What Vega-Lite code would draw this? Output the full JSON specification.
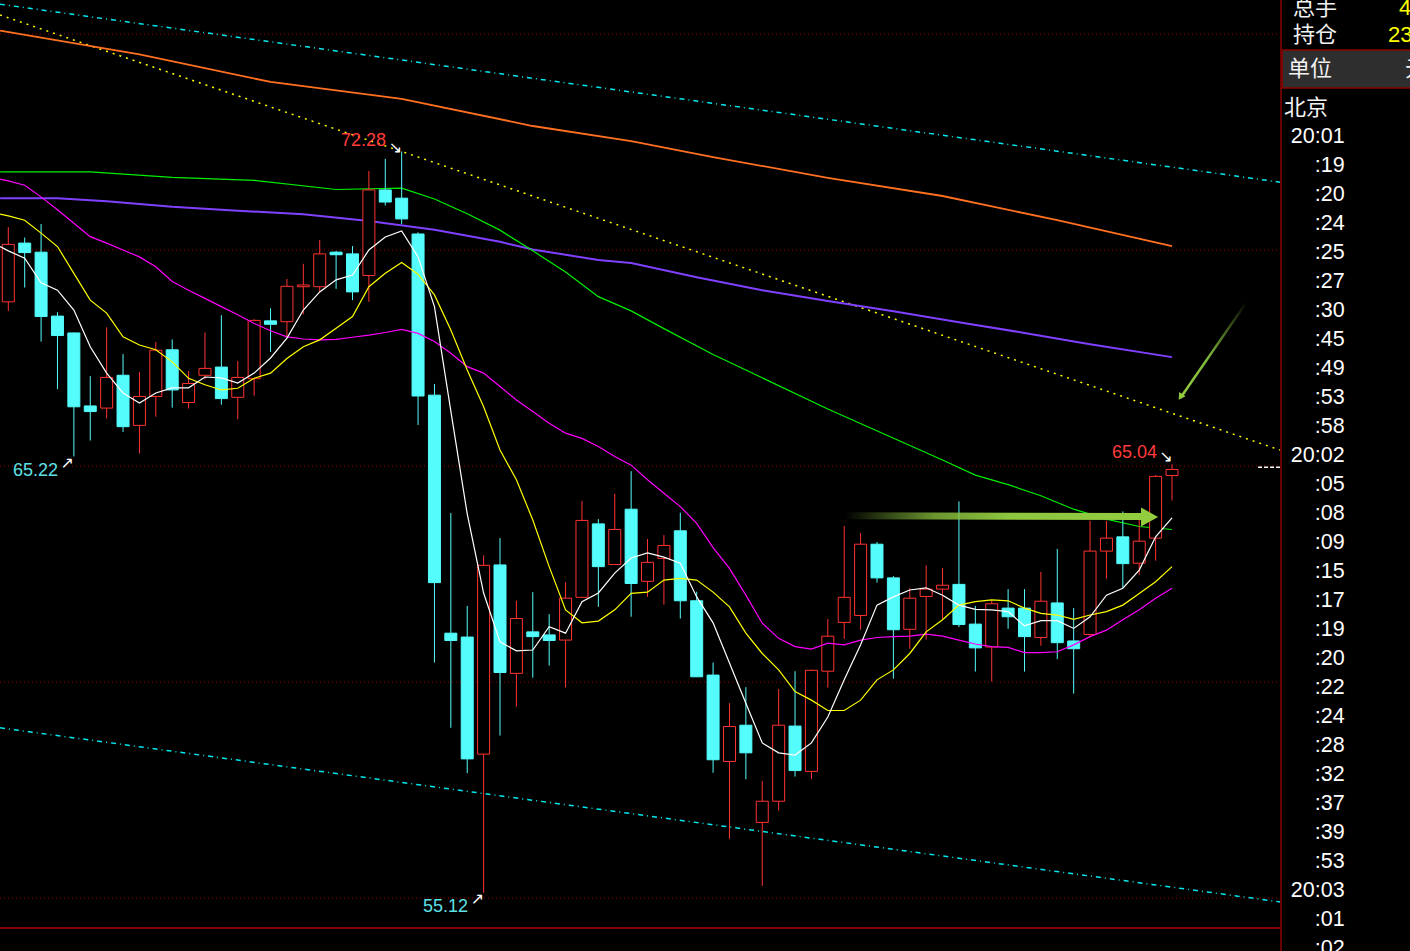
{
"$schema":"https://vega.github.io/schema/vega-lite/v6.json",
"width":1410,"height":951,"padding":0,"autosize":{"type":"none"},
"background":"#000000",
"config":{"view":{"stroke":null},"scale":{"continuousPadding":0}},
"datasets":{
"k":[
{"i":0,"o":68.80,"h":70.53,"l":68.59,"c":70.13},
{"i":1,"o":70.16,"h":70.29,"l":69.13,"c":69.94},
{"i":2,"o":69.95,"h":70.60,"l":67.88,"c":68.46},
{"i":3,"o":68.47,"h":68.56,"l":66.78,"c":68.02},
{"i":4,"o":68.08,"h":68.09,"l":65.22,"c":66.37},
{"i":5,"o":66.39,"h":67.08,"l":65.59,"c":66.26},
{"i":6,"o":66.34,"h":68.21,"l":66.10,"c":67.05},
{"i":7,"o":67.10,"h":67.59,"l":65.79,"c":65.91},
{"i":8,"o":65.94,"h":67.18,"l":65.29,"c":66.61},
{"i":9,"o":66.61,"h":67.87,"l":66.14,"c":67.68},
{"i":10,"o":67.69,"h":67.93,"l":66.35,"c":66.76},
{"i":11,"o":66.47,"h":67.20,"l":66.33,"c":66.91},
{"i":12,"o":67.10,"h":68.09,"l":67.01,"c":67.26},
{"i":13,"o":67.29,"h":68.49,"l":66.42,"c":66.56},
{"i":14,"o":66.59,"h":67.43,"l":66.08,"c":67.05},
{"i":15,"o":67.02,"h":68.40,"l":66.63,"c":68.37},
{"i":16,"o":68.36,"h":68.65,"l":67.64,"c":68.28},
{"i":17,"o":68.34,"h":69.33,"l":67.96,"c":69.16},
{"i":18,"o":69.15,"h":69.68,"l":68.51,"c":69.19},
{"i":19,"o":69.15,"h":70.23,"l":69.03,"c":69.91},
{"i":20,"o":69.95,"h":69.98,"l":69.10,"c":69.89},
{"i":21,"o":69.91,"h":70.09,"l":68.84,"c":69.03},
{"i":22,"o":69.41,"h":71.83,"l":68.80,"c":71.39},
{"i":23,"o":71.39,"h":72.11,"l":71.03,"c":71.11},
{"i":24,"o":71.20,"h":72.28,"l":70.60,"c":70.72},
{"i":25,"o":70.37,"h":70.41,"l":65.95,"c":66.62},
{"i":26,"o":66.64,"h":66.90,"l":60.45,"c":62.30},
{"i":27,"o":61.13,"h":63.91,"l":58.94,"c":60.96},
{"i":28,"o":61.04,"h":61.76,"l":57.89,"c":58.22},
{"i":29,"o":58.33,"h":62.93,"l":55.12,"c":62.70},
{"i":30,"o":62.71,"h":63.33,"l":58.76,"c":60.22},
{"i":31,"o":60.20,"h":61.88,"l":59.43,"c":61.47},
{"i":32,"o":61.16,"h":62.08,"l":60.10,"c":61.05},
{"i":33,"o":61.09,"h":61.57,"l":60.38,"c":60.96},
{"i":34,"o":60.97,"h":62.31,"l":59.87,"c":61.94},
{"i":35,"o":61.96,"h":64.19,"l":61.96,"c":63.74},
{"i":36,"o":63.66,"h":63.77,"l":61.74,"c":62.67},
{"i":37,"o":62.72,"h":64.36,"l":62.72,"c":63.53},
{"i":38,"o":64.00,"h":64.88,"l":61.51,"c":62.28},
{"i":39,"o":62.33,"h":63.31,"l":61.97,"c":62.77},
{"i":40,"o":62.86,"h":63.40,"l":61.79,"c":63.16},
{"i":41,"o":63.50,"h":63.92,"l":61.47,"c":61.88},
{"i":42,"o":61.88,"h":62.09,"l":60.12,"c":60.12},
{"i":43,"o":60.16,"h":60.45,"l":57.90,"c":58.20},
{"i":44,"o":58.16,"h":59.51,"l":56.37,"c":58.97},
{"i":45,"o":59.00,"h":59.88,"l":57.75,"c":58.36},
{"i":46,"o":56.75,"h":57.71,"l":55.28,"c":57.24},
{"i":47,"o":57.24,"h":59.84,"l":57.02,"c":59.00},
{"i":48,"o":58.98,"h":60.25,"l":57.81,"c":57.95},
{"i":49,"o":57.93,"h":60.29,"l":57.75,"c":60.27},
{"i":50,"o":60.25,"h":61.46,"l":59.87,"c":61.06},
{"i":51,"o":61.38,"h":63.61,"l":61.00,"c":61.96},
{"i":52,"o":61.54,"h":63.45,"l":61.21,"c":63.19},
{"i":53,"o":63.19,"h":63.24,"l":62.30,"c":62.41},
{"i":54,"o":62.41,"h":62.45,"l":60.08,"c":61.21},
{"i":55,"o":61.22,"h":62.17,"l":60.77,"c":61.94},
{"i":56,"o":61.98,"h":62.70,"l":60.98,"c":62.15},
{"i":57,"o":62.15,"h":62.64,"l":61.46,"c":62.24},
{"i":58,"o":62.26,"h":64.18,"l":61.27,"c":61.33},
{"i":59,"o":61.34,"h":61.76,"l":60.24,"c":60.79},
{"i":60,"o":60.81,"h":61.88,"l":60.01,"c":61.81},
{"i":61,"o":61.71,"h":62.15,"l":61.23,"c":61.51},
{"i":62,"o":61.71,"h":62.15,"l":60.24,"c":61.05},
{"i":63,"o":61.03,"h":62.55,"l":60.84,"c":61.87},
{"i":64,"o":61.83,"h":63.08,"l":60.53,"c":60.91},
{"i":65,"o":60.95,"h":61.71,"l":59.73,"c":60.77},
{"i":66,"o":61.10,"h":63.73,"l":61.05,"c":63.03},
{"i":67,"o":63.03,"h":63.73,"l":62.39,"c":63.33},
{"i":68,"o":63.36,"h":63.95,"l":62.18,"c":62.74},
{"i":69,"o":62.75,"h":63.77,"l":62.48,"c":63.26},
{"i":70,"o":63.33,"h":64.79,"l":62.81,"c":64.76},
{"i":71,"o":64.78,"h":65.04,"l":64.20,"c":64.92}
],
"ma":[
{"i":-0.5,"w":70.08,"y":70.83,"m":71.64},
{"i":0,"w":69.98,"y":70.79,"m":71.60},
{"i":1,"w":69.81,"y":70.69,"m":71.50},
{"i":2,"w":69.24,"y":70.39,"m":71.23},
{"i":3,"w":69.07,"y":70.08,"m":70.93},
{"i":4,"w":68.61,"y":69.46,"m":70.62},
{"i":5,"w":67.76,"y":68.84,"m":70.31},
{"i":6,"w":67.15,"y":68.54,"m":70.16},
{"i":7,"w":66.69,"y":67.99,"m":70.00},
{"i":8,"w":66.46,"y":67.80,"m":69.84},
{"i":9,"w":66.69,"y":67.69,"m":69.61},
{"i":10,"w":66.81,"y":67.41,"m":69.27},
{"i":11,"w":66.81,"y":67.03,"m":69.07},
{"i":12,"w":67.06,"y":66.88,"m":68.88},
{"i":13,"w":67.04,"y":66.76,"m":68.69},
{"i":14,"w":66.92,"y":66.80,"m":68.50},
{"i":15,"w":67.15,"y":67.03,"m":68.30},
{"i":16,"w":67.50,"y":67.15,"m":68.13},
{"i":17,"w":67.96,"y":67.49,"m":67.99},
{"i":18,"w":68.61,"y":67.76,"m":67.94},
{"i":19,"w":69.03,"y":67.92,"m":67.92},
{"i":20,"w":69.31,"y":68.19,"m":67.93},
{"i":21,"w":69.42,"y":68.46,"m":67.98},
{"i":22,"w":70.00,"y":69.15,"m":68.03},
{"i":23,"w":70.30,"y":69.46,"m":68.09},
{"i":24,"w":70.44,"y":69.71,"m":68.16},
{"i":25,"w":69.84,"y":69.44,"m":68.07},
{"i":26,"w":68.69,"y":68.96,"m":67.88},
{"i":27,"w":66.27,"y":68.15,"m":67.61},
{"i":28,"w":63.89,"y":67.22,"m":67.30},
{"i":29,"w":62.06,"y":66.37,"m":67.15},
{"i":30,"w":60.93,"y":65.37,"m":66.84},
{"i":31,"w":60.72,"y":64.68,"m":66.53},
{"i":32,"w":60.74,"y":63.75,"m":66.26},
{"i":33,"w":61.28,"y":62.67,"m":65.99},
{"i":34,"w":61.13,"y":61.67,"m":65.76},
{"i":35,"w":61.86,"y":61.37,"m":65.64},
{"i":36,"w":62.06,"y":61.41,"m":65.45},
{"i":37,"w":62.52,"y":61.67,"m":65.22},
{"i":38,"w":62.87,"y":62.05,"m":65.02},
{"i":39,"w":62.99,"y":62.08,"m":64.68},
{"i":40,"w":62.89,"y":62.36,"m":64.37},
{"i":41,"w":62.75,"y":62.40,"m":64.06},
{"i":42,"w":61.97,"y":62.36,"m":63.67},
{"i":43,"w":61.37,"y":62.08,"m":63.11},
{"i":44,"w":60.44,"y":61.74,"m":62.63},
{"i":45,"w":59.51,"y":61.13,"m":62.01},
{"i":46,"w":58.59,"y":60.66,"m":61.36},
{"i":47,"w":58.36,"y":60.28,"m":61.01},
{"i":48,"w":58.31,"y":59.78,"m":60.82},
{"i":49,"w":58.59,"y":59.58,"m":60.76},
{"i":50,"w":59.19,"y":59.34,"m":60.90},
{"i":51,"w":60.05,"y":59.34,"m":60.86},
{"i":52,"w":60.86,"y":59.58,"m":60.97},
{"i":53,"w":61.78,"y":60.05,"m":61.03},
{"i":54,"w":61.97,"y":60.28,"m":61.05},
{"i":55,"w":62.13,"y":60.66,"m":61.06},
{"i":56,"w":62.18,"y":61.16,"m":61.11},
{"i":57,"w":62.01,"y":61.44,"m":61.06},
{"i":58,"w":61.78,"y":61.78,"m":60.97},
{"i":59,"w":61.68,"y":61.86,"m":60.88},
{"i":60,"w":61.67,"y":61.90,"m":60.82},
{"i":61,"w":61.63,"y":61.88,"m":60.80},
{"i":62,"w":61.30,"y":61.71,"m":60.68},
{"i":63,"w":61.42,"y":61.59,"m":60.68},
{"i":64,"w":61.42,"y":61.55,"m":60.70},
{"i":65,"w":61.24,"y":61.45,"m":60.86},
{"i":66,"w":61.51,"y":61.55,"m":61.05},
{"i":67,"w":62.01,"y":61.63,"m":61.20},
{"i":68,"w":62.17,"y":61.78,"m":61.44},
{"i":69,"w":62.59,"y":62.05,"m":61.67},
{"i":70,"w":63.36,"y":62.32,"m":61.94},
{"i":71,"w":63.80,"y":62.67,"m":62.17}
],
"slow":[
{"s":"O","i":-0.5,"v":75.08},{"s":"O","i":8,"v":74.53},{"s":"O","i":16,"v":73.89},{"s":"O","i":24,"v":73.50},{"s":"O","i":32,"v":72.87},{"s":"O","i":38,"v":72.52},{"s":"O","i":43,"v":72.15},{"s":"O","i":50,"v":71.67},{"s":"O","i":57,"v":71.25},{"s":"O","i":64,"v":70.69},{"s":"O","i":71,"v":70.09},
{"s":"P","i":-0.5,"v":71.20},{"s":"P","i":3,"v":71.20},{"s":"P","i":6,"v":71.13},{"s":"P","i":10,"v":71.00},{"s":"P","i":14,"v":70.91},{"s":"P","i":18,"v":70.83},{"s":"P","i":22,"v":70.67},{"s":"P","i":26,"v":70.47},{"s":"P","i":30,"v":70.19},{"s":"P","i":32,"v":70.01},{"s":"P","i":36,"v":69.77},{"s":"P","i":38,"v":69.70},{"s":"P","i":42,"v":69.37},{"s":"P","i":46,"v":69.07},{"s":"P","i":50,"v":68.82},{"s":"P","i":54,"v":68.58},{"s":"P","i":58,"v":68.33},{"s":"P","i":62,"v":68.08},{"s":"P","i":66,"v":67.82},{"s":"P","i":71,"v":67.52},
{"s":"G","i":-0.5,"v":71.81},{"s":"G","i":5,"v":71.81},{"s":"G","i":10,"v":71.68},{"s":"G","i":15,"v":71.61},{"s":"G","i":20,"v":71.40},{"s":"G","i":24,"v":71.43},{"s":"G","i":26,"v":71.18},{"s":"G","i":28,"v":70.84},{"s":"G","i":30,"v":70.46},{"s":"G","i":32,"v":69.98},{"s":"G","i":34,"v":69.49},{"s":"G","i":36,"v":68.92},{"s":"G","i":38,"v":68.59},{"s":"G","i":40,"v":68.18},{"s":"G","i":43,"v":67.58},{"s":"G","i":50,"v":66.32},{"s":"G","i":57,"v":65.14},{"s":"G","i":59,"v":64.79},{"s":"G","i":61,"v":64.57},{"s":"G","i":63,"v":64.31},{"s":"G","i":65,"v":64.00},{"s":"G","i":67,"v":63.77},{"s":"G","i":69,"v":63.60},{"s":"G","i":71,"v":63.53}
],
"trend":[
{"t":"yd","i":-0.5064,"v":75.44},{"t":"yd","i":77.59,"v":65.37},
{"t":"cu","i":-0.5064,"v":75.69},{"t":"cu","i":77.59,"v":71.57},
{"t":"cl","i":-0.5064,"v":58.94},{"t":"cl","i":77.59,"v":54.91}
],
"grid":[{"p":55},{"p":60},{"p":65},{"p":70},{"p":75}],
"annHi":[{"i":21.67,"p":72.52,"t":"72.28"},{"i":68.71,"p":65.30,"t":"65.04"}],
"annLo":[{"i":1.66,"p":64.89,"t":"65.22"},{"i":26.67,"p":54.79,"t":"55.12"}],
"arrows":[{"i":23.62,"p":72.37,"t":"↘"},{"i":70.63,"p":65.2,"t":"↘"},{"i":3.6,"p":65.08,"t":"↗"},{"i":28.62,"p":54.97,"t":"↗"}],
"shaft":[{"i":51.05,"p":63.85},{"i":69.2,"p":63.83}],
"head":[{"i":69.63,"p":63.82}],
"diag":[{"i":75.56,"p":68.80,"i2":71.52,"p2":66.58}],
"dhead":[{"i":71.52,"p":66.60}],
"hdr":[{"r":-4.45,"i":78.38,"t":"总手"},{"r":-3.52,"i":78.38,"t":"持仓"},{"r":-2.34,"i":78.07,"t":"单位"},{"r":-1.0,"i":77.83,"t":"北京"},{"r":-2.34,"i":85.22,"t":"元"}],
"hdrv":[{"r":-4.45,"i":84.85,"t":"4"},{"r":-3.52,"i":84.18,"t":"23"}],
"times":[
{"r":0,"t":"20:01"},{"r":1,"t":":19"},{"r":2,"t":":20"},{"r":3,"t":":24"},{"r":4,"t":":25"},{"r":5,"t":":27"},{"r":6,"t":":30"},{"r":7,"t":":45"},{"r":8,"t":":49"},{"r":9,"t":":53"},{"r":10,"t":":58"},{"r":11,"t":"20:02"},{"r":12,"t":":05"},{"r":13,"t":":08"},{"r":14,"t":":09"},{"r":15,"t":":15"},{"r":16,"t":":17"},{"r":17,"t":":19"},{"r":18,"t":":20"},{"r":19,"t":":22"},{"r":20,"t":":24"},{"r":21,"t":":28"},{"r":22,"t":":32"},{"r":23,"t":":37"},{"r":24,"t":":39"},{"r":25,"t":":53"},{"r":26,"t":"20:03"},{"r":27,"t":":01"},{"r":28,"t":":02"}
]
},
"layer":[
{"layer":[
{"data":{"name":"grid"},"mark":{"type":"rule","color":"#9a0000","strokeWidth":1,"strokeDash":[1,3]},
 "encoding":{"y":{"field":"p","type":"quantitative","scale":{"domain":[53.773,75.787],"nice":false,"zero":false},"axis":null},
 "x":{"datum":-0.5064,"type":"quantitative","scale":{"domain":[-0.5064,85.52],"nice":false,"zero":false,"padding":0},"axis":null},
 "x2":{"datum":77.59}}},
{"data":{"name":"trend"},"transform":[{"filter":"datum.t == 'yd'"}],"mark":{"type":"line","strokeWidth":1.5,"color":"#ffff00","strokeDash":[2,5]},
 "encoding":{"x":{"field":"i","type":"quantitative","scale":{"domain":[-0.5064,85.52],"nice":false,"zero":false,"padding":0},"axis":null},
 "y":{"field":"v","type":"quantitative","scale":{"domain":[53.773,75.787],"nice":false,"zero":false},"axis":null}}},
{"data":{"name":"trend"},"transform":[{"filter":"datum.t != 'yd'"}],"mark":{"type":"line","strokeWidth":1.5,"color":"#00e8ee","strokeDash":[5,4,1,4]},
 "encoding":{"x":{"field":"i","type":"quantitative","scale":{"domain":[-0.5064,85.52],"nice":false,"zero":false,"padding":0},"axis":null},
 "y":{"field":"v","type":"quantitative","scale":{"domain":[53.773,75.787],"nice":false,"zero":false},"axis":null},
 "detail":{"field":"t"}}},
{"data":{"name":"slow"},"transform":[{"filter":"datum.s == 'O'"}],"mark":{"type":"line","color":"#ff7020","strokeWidth":1.8},
 "encoding":{"x":{"field":"i","type":"quantitative","scale":{"domain":[-0.5064,85.52],"nice":false,"zero":false,"padding":0},"axis":null},
 "y":{"field":"v","type":"quantitative","scale":{"domain":[53.773,75.787],"nice":false,"zero":false},"axis":null}}},
{"data":{"name":"slow"},"transform":[{"filter":"datum.s == 'P'"}],"mark":{"type":"line","color":"#8040ff","strokeWidth":2},
 "encoding":{"x":{"field":"i","type":"quantitative","scale":{"domain":[-0.5064,85.52],"nice":false,"zero":false,"padding":0},"axis":null},
 "y":{"field":"v","type":"quantitative","scale":{"domain":[53.773,75.787],"nice":false,"zero":false},"axis":null}}},
{"data":{"name":"slow"},"transform":[{"filter":"datum.s == 'G'"}],"mark":{"type":"line","color":"#00ee00","strokeWidth":1.2},
 "encoding":{"x":{"field":"i","type":"quantitative","scale":{"domain":[-0.5064,85.52],"nice":false,"zero":false,"padding":0},"axis":null},
 "y":{"field":"v","type":"quantitative","scale":{"domain":[53.773,75.787],"nice":false,"zero":false},"axis":null}}},
{"data":{"values":[{}]},"mark":{"type":"rule","color":"#b00000","strokeWidth":1.5},
 "encoding":{"y":{"datum":54.305,"type":"quantitative","scale":{"domain":[53.773,75.787],"nice":false,"zero":false},"axis":null},
 "x":{"datum":-0.5064,"type":"quantitative","scale":{"domain":[-0.5064,85.52],"nice":false,"zero":false,"padding":0},"axis":null},
 "x2":{"datum":77.65}}},
{"data":{"values":[{}]},"mark":{"type":"rect","fill":"#2e2e2e","stroke":"#8b0000","strokeWidth":1.5},
 "encoding":{"x":{"datum":77.72,"type":"quantitative","scale":{"domain":[-0.5064,85.52],"nice":false,"zero":false,"padding":0},"axis":null},
 "x2":{"datum":86.5},
 "y":{"datum":74.63,"type":"quantitative","scale":{"domain":[53.773,75.787],"nice":false,"zero":false},"axis":null},
 "y2":{"datum":73.75}}},
{"data":{"values":[{}]},"mark":{"type":"rule","color":"#8b0000","strokeWidth":1.5},
 "encoding":{"x":{"datum":77.65,"type":"quantitative","scale":{"domain":[-0.5064,85.52],"nice":false,"zero":false,"padding":0},"axis":null}}},
{"data":{"name":"k"},"mark":{"type":"rule","strokeWidth":1},
 "encoding":{"x":{"field":"i","type":"quantitative","scale":{"domain":[-0.5064,85.52],"nice":false,"zero":false,"padding":0},"axis":null},
 "y":{"field":"l","type":"quantitative","scale":{"domain":[53.773,75.787],"nice":false,"zero":false},"axis":null},
 "y2":{"field":"h"},
 "color":{"condition":{"test":"datum.c >= datum.o","value":"#ff3232"},"value":"#54fcfc"}}},
{"data":{"name":"k"},"mark":{"type":"bar","size":12,"strokeWidth":1},
 "encoding":{"x":{"field":"i","type":"quantitative","scale":{"domain":[-0.5064,85.52],"nice":false,"zero":false,"padding":0},"axis":null},
 "y":{"field":"o","type":"quantitative","scale":{"domain":[53.773,75.787],"nice":false,"zero":false},"axis":null},
 "y2":{"field":"c"},
 "fill":{"condition":{"test":"datum.c >= datum.o","value":"#000000"},"value":"#54fcfc"},
 "stroke":{"condition":{"test":"datum.c >= datum.o","value":"#ff3232"},"value":"#54fcfc"}}},
{"data":{"name":"ma"},"mark":{"type":"line","color":"#ff00ff","strokeWidth":1.2},
 "encoding":{"x":{"field":"i","type":"quantitative","scale":{"domain":[-0.5064,85.52],"nice":false,"zero":false,"padding":0},"axis":null},
 "y":{"field":"m","type":"quantitative","scale":{"domain":[53.773,75.787],"nice":false,"zero":false},"axis":null}}},
{"data":{"name":"ma"},"mark":{"type":"line","color":"#ffff00","strokeWidth":1.2},
 "encoding":{"x":{"field":"i","type":"quantitative","scale":{"domain":[-0.5064,85.52],"nice":false,"zero":false,"padding":0},"axis":null},
 "y":{"field":"y","type":"quantitative","scale":{"domain":[53.773,75.787],"nice":false,"zero":false},"axis":null}}},
{"data":{"name":"ma"},"mark":{"type":"line","color":"#ffffff","strokeWidth":1.2},
 "encoding":{"x":{"field":"i","type":"quantitative","scale":{"domain":[-0.5064,85.52],"nice":false,"zero":false,"padding":0},"axis":null},
 "y":{"field":"w","type":"quantitative","scale":{"domain":[53.773,75.787],"nice":false,"zero":false},"axis":null}}},
{"data":{"name":"shaft"},"mark":{"type":"line","strokeWidth":7,"strokeCap":"butt","color":{"gradient":"linear","x1":0,"y1":0,"x2":1,"y2":0,"stops":[{"offset":0,"color":"rgba(141,198,63,0)"},{"offset":0.3,"color":"rgba(141,198,63,0.75)"},{"offset":0.55,"color":"#8dc63f"},{"offset":1,"color":"#94cc40"}]}},
 "encoding":{"x":{"field":"i","type":"quantitative","scale":{"domain":[-0.5064,85.52],"nice":false,"zero":false,"padding":0},"axis":null},
 "y":{"field":"p","type":"quantitative","scale":{"domain":[53.773,75.787],"nice":false,"zero":false},"axis":null}}},
{"data":{"name":"head"},"mark":{"type":"point","filled":true,"opacity":1,"color":"#94cc40","shape":"M-0.9,-1L0.9,0L-0.9,1Z","size":361},
 "encoding":{"x":{"field":"i","type":"quantitative","scale":{"domain":[-0.5064,85.52],"nice":false,"zero":false,"padding":0},"axis":null},
 "y":{"field":"p","type":"quantitative","scale":{"domain":[53.773,75.787],"nice":false,"zero":false},"axis":null}}},
{"data":{"name":"diag"},"mark":{"type":"rule","strokeWidth":2.5,"color":{"gradient":"linear","x1":1,"y1":0,"x2":0,"y2":1,"stops":[{"offset":0,"color":"rgba(141,198,63,0)"},{"offset":0.6,"color":"#7fb83a"},{"offset":1,"color":"#94cc40"}]}},
 "encoding":{"x":{"field":"i","type":"quantitative","scale":{"domain":[-0.5064,85.52],"nice":false,"zero":false,"padding":0},"axis":null},
 "y":{"field":"p","type":"quantitative","scale":{"domain":[53.773,75.787],"nice":false,"zero":false},"axis":null},
 "x2":{"field":"i2"},"y2":{"field":"p2"}}},
{"data":{"name":"dhead"},"mark":{"type":"point","filled":true,"opacity":1,"color":"#94cc40","shape":"triangle-down","size":60,"angle":34},
 "encoding":{"x":{"field":"i","type":"quantitative","scale":{"domain":[-0.5064,85.52],"nice":false,"zero":false,"padding":0},"axis":null},
 "y":{"field":"p","type":"quantitative","scale":{"domain":[53.773,75.787],"nice":false,"zero":false},"axis":null}}},
{"data":{"values":[{}]},"mark":{"type":"rule","color":"#ffffff","strokeWidth":1.5,"strokeDash":[4,2]},
 "encoding":{"y":{"datum":64.97,"type":"quantitative","scale":{"domain":[53.773,75.787],"nice":false,"zero":false},"axis":null},
 "x":{"datum":76.25,"type":"quantitative","scale":{"domain":[-0.5064,85.52],"nice":false,"zero":false,"padding":0},"axis":null},
 "x2":{"datum":77.59}}},
{"data":{"name":"annHi"},"mark":{"type":"text","font":"Liberation Sans","fontSize":18,"color":"#ff3c3c","align":"center","baseline":"middle"},
 "encoding":{"x":{"field":"i","type":"quantitative","scale":{"domain":[-0.5064,85.52],"nice":false,"zero":false,"padding":0},"axis":null},
 "y":{"field":"p","type":"quantitative","scale":{"domain":[53.773,75.787],"nice":false,"zero":false},"axis":null},
 "text":{"field":"t"}}},
{"data":{"name":"annLo"},"mark":{"type":"text","font":"Liberation Sans","fontSize":18,"color":"#5ce1e6","align":"center","baseline":"middle"},
 "encoding":{"x":{"field":"i","type":"quantitative","scale":{"domain":[-0.5064,85.52],"nice":false,"zero":false,"padding":0},"axis":null},
 "y":{"field":"p","type":"quantitative","scale":{"domain":[53.773,75.787],"nice":false,"zero":false},"axis":null},
 "text":{"field":"t"}}},
{"data":{"name":"arrows"},"mark":{"type":"text","font":"DejaVu Sans","fontSize":16,"color":"#ffffff","align":"center","baseline":"middle"},
 "encoding":{"x":{"field":"i","type":"quantitative","scale":{"domain":[-0.5064,85.52],"nice":false,"zero":false,"padding":0},"axis":null},
 "y":{"field":"p","type":"quantitative","scale":{"domain":[53.773,75.787],"nice":false,"zero":false},"axis":null},
 "text":{"field":"t"}}}
]},
{"layer":[
{"data":{"name":"hdr"},"mark":{"type":"text","font":"Noto Sans CJK SC","fontSize":22,"color":"#f2f2f2","align":"left","baseline":"middle"},
 "encoding":{"x":{"field":"i","type":"quantitative","scale":{"domain":[-0.5064,85.52],"nice":false,"zero":false,"padding":0},"axis":null},
 "y":{"field":"r","type":"quantitative","scale":{"domain":[-4.7241,28.069],"reverse":true,"nice":false,"zero":false},"axis":null},
 "text":{"field":"t"}}},
{"data":{"name":"hdrv"},"mark":{"type":"text","font":"Liberation Sans","fontSize":22,"color":"#ffff00","align":"left","baseline":"middle"},
 "encoding":{"x":{"field":"i","type":"quantitative","scale":{"domain":[-0.5064,85.52],"nice":false,"zero":false,"padding":0},"axis":null},
 "y":{"field":"r","type":"quantitative","scale":{"domain":[-4.7241,28.069],"reverse":true,"nice":false,"zero":false},"axis":null},
 "text":{"field":"t"}}},
{"data":{"name":"times"},"mark":{"type":"text","font":"Liberation Sans","fontSize":21.5,"color":"#ffffff","align":"right","baseline":"middle"},
 "encoding":{"x":{"datum":81.53,"type":"quantitative","scale":{"domain":[-0.5064,85.52],"nice":false,"zero":false,"padding":0},"axis":null},
 "y":{"field":"r","type":"quantitative","scale":{"domain":[-4.7241,28.069],"reverse":true,"nice":false,"zero":false},"axis":null},
 "text":{"field":"t"}}}
]}
],
"resolve":{"scale":{"y":"independent"}}
}
